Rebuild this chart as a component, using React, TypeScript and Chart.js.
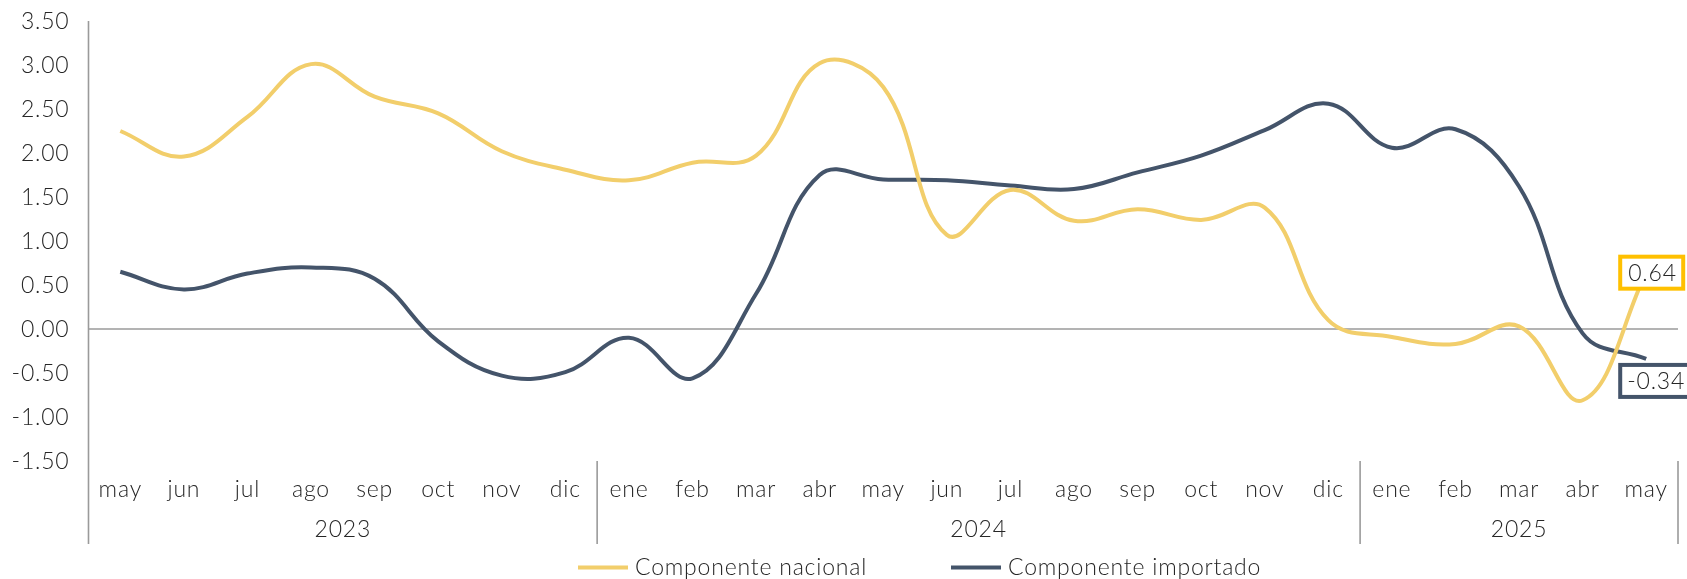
import React, { useEffect, useRef } from "react";
import { Chart, registerables } from "chart.js";

Chart.register(...registerables);

// ---- data ----
const months = [
  "may", "jun", "jul", "ago", "sep", "oct", "nov", "dic",
  "ene", "feb", "mar", "abr", "may", "jun", "jul", "ago", "sep", "oct", "nov", "dic",
  "ene", "feb", "mar", "abr", "may",
];
const yearLabels = ["2023", "2024", "2025"];
const yearSpans = [8, 12, 5];
const seriesNames = ["Componente nacional", "Componente importado"];
const nacional = [
  2.25, 1.96, 2.41, 3.01, 2.64, 2.45, 2.02, 1.81,
  1.69, 1.89, 1.97, 3.02, 2.75, 1.07, 1.58, 1.23, 1.36, 1.24, 1.38, 0.1,
  -0.09, -0.17, 0.03, -0.81, 0.64,
];
const importado = [
  0.65, 0.45, 0.63, 0.7, 0.57, -0.14, -0.53, -0.49,
  -0.1, -0.56, 0.4, 1.75, 1.7, 1.69, 1.63, 1.59, 1.78, 1.97, 2.26, 2.56,
  2.06, 2.27, 1.62, -0.05, -0.34,
];
const yMin = -1.5;
const yMax = 3.5;
const yStep = 0.5;

// ---- styles ----
const FONT_FAMILY = 'Lato, "Open Sans", "DejaVu Sans", sans-serif';
const FONT = `300 23px ${FONT_FAMILY}`;
const SPACING = "0.8px";
const TEXT = "#262626";
const AXIS = "#9a9a9a";
const YELLOW = "#F2CE6B";
const NAVY = "#44546A";
const GOLD = "#FFC000";

const decorPlugin = {
  id: "decor",
  beforeDatasetsDraw(chart: any) {
    const { ctx, chartArea, scales } = chart;
    const x = scales.x;
    const y = scales.y;
    ctx.save();
    ctx.strokeStyle = AXIS;
    ctx.lineWidth = 1.6;
    // zero line
    const y0 = y.getPixelForValue(0);
    ctx.beginPath();
    ctx.moveTo(chartArea.left, y0);
    ctx.lineTo(chartArea.right, y0);
    ctx.stroke();
    // left axis line (extends through category area)
    const bottomExt = chartArea.bottom + 83;
    ctx.beginPath();
    ctx.moveTo(chartArea.left, chartArea.top);
    ctx.lineTo(chartArea.left, bottomExt);
    ctx.stroke();

    ctx.font = FONT;
    (ctx as any).letterSpacing = SPACING;
    ctx.fillStyle = TEXT;
    ctx.textBaseline = "middle";

    // y tick labels
    ctx.textAlign = "right";
    y.ticks.forEach((t: any) => {
      ctx.fillText(Number(t.value).toFixed(2), chartArea.left - 19, y.getPixelForValue(t.value) + 1);
    });

    const half = (x.getPixelForValue(1) - x.getPixelForValue(0)) / 2;
    ctx.textAlign = "center";
    let idx = 0;
    yearSpans.forEach((span, k) => {
      const xl = x.getPixelForValue(idx) - half;
      const xr = x.getPixelForValue(idx + span - 1) + half;
      ctx.beginPath();
      ctx.moveTo(xr, chartArea.bottom);
      ctx.lineTo(xr, bottomExt);
      ctx.stroke();
      ctx.fillText(yearLabels[k], (xl + xr) / 2, chartArea.bottom + 69);
      idx += span;
    });
    months.forEach((m, i) => {
      ctx.fillText(m, x.getPixelForValue(i), chartArea.bottom + 29);
    });
    ctx.restore();
  },
  afterDatasetsDraw(chart: any) {
    const { ctx, scales } = chart;
    const x = scales.x;
    const y = scales.y;
    const last = months.length - 1;
    const px = x.getPixelForValue(last);
    ctx.save();
    ctx.font = FONT;
    (ctx as any).letterSpacing = SPACING;
    ctx.textBaseline = "middle";
    ctx.textAlign = "left";
    // nacional label
    const py1 = y.getPixelForValue(nacional[last]);
    ctx.fillStyle = "#ffffff";
    ctx.fillRect(px - 26, py1 - 16, 63, 32);
    ctx.strokeStyle = GOLD;
    ctx.lineWidth = 4;
    ctx.strokeRect(px - 26, py1 - 16, 63, 32);
    ctx.fillStyle = TEXT;
    ctx.fillText(nacional[last].toFixed(2), px - 18, py1 + 1);
    // importado label
    const py2 = y.getPixelForValue(importado[last]);
    ctx.fillStyle = "#ffffff";
    ctx.fillRect(px - 26, py2 + 6, 80, 32);
    ctx.strokeStyle = NAVY;
    ctx.strokeRect(px - 26, py2 + 6, 80, 32);
    ctx.fillStyle = TEXT;
    ctx.fillText(importado[last].toFixed(2), px - 19, py2 + 23);

    // legend
    const ly = 567.5;
    const items = [
      { color: YELLOW, x0: 578, name: seriesNames[0] },
      { color: NAVY, x0: 951, name: seriesNames[1] },
    ];
    items.forEach((it) => {
      ctx.strokeStyle = it.color;
      ctx.lineWidth = 4;
      ctx.beginPath();
      ctx.moveTo(it.x0, ly);
      ctx.lineTo(it.x0 + 50, ly);
      ctx.stroke();
      ctx.fillStyle = TEXT;
      ctx.fillText(it.name, it.x0 + 57, ly);
    });
    ctx.restore();
  },
};

export default function App() {
  const ref = useRef<HTMLCanvasElement | null>(null);
  useEffect(() => {
    if (!ref.current) return;
    const chart = new Chart(ref.current, {
      type: "line",
      data: {
        labels: months,
        datasets: [
          {
            label: seriesNames[0],
            data: nacional,
            borderColor: YELLOW,
            borderWidth: 4,
            pointRadius: 0,
            tension: 0.4,
            fill: false,
          },
          {
            label: seriesNames[1],
            data: importado,
            borderColor: NAVY,
            borderWidth: 4,
            pointRadius: 0,
            tension: 0.4,
            fill: false,
          },
        ],
      },
      options: {
        animation: false,
        responsive: false,
        maintainAspectRatio: false,
        layout: { padding: { left: 0, right: 9, top: 21, bottom: 118 } },
        plugins: {
          legend: { display: false },
          tooltip: { enabled: false },
        },
        scales: {
          x: {
            type: "category",
            offset: true,
            display: false,
          },
          y: {
            min: yMin,
            max: yMax,
            afterFit: (s: any) => {
              s.width = 88.5;
            },
            grid: { display: false, drawTicks: false },
            border: { display: false },
            ticks: {
              stepSize: yStep,
              display: false,
            },
          },
        },
      },
      plugins: [decorPlugin],
    });
    return () => chart.destroy();
  }, []);
  return (
    <div style={{ position: "absolute", left: 0, top: 0, width: 1687, height: 579, background: "#fff" }}>
      <canvas ref={ref} width={1687} height={579} />
    </div>
  );
}
